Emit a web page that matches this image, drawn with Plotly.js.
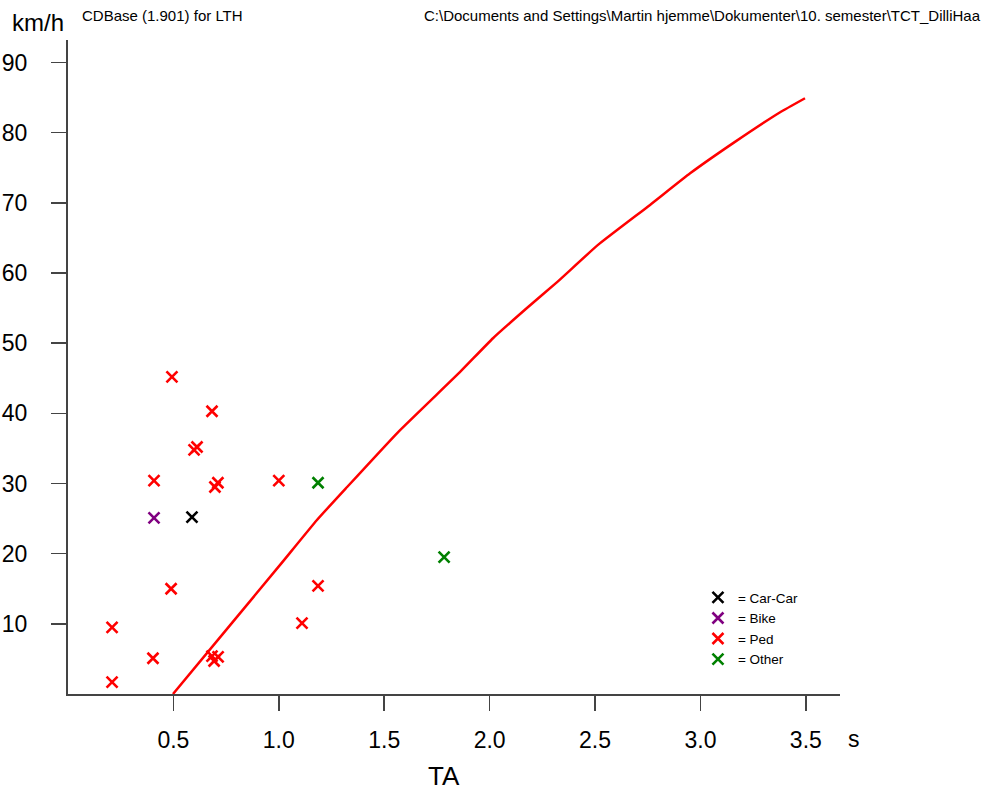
<!DOCTYPE html>
<html>
<head>
<meta charset="utf-8">
<script src="https://cdn.plot.ly/plotly-3.0.1.min.js"></script>
<style>html,body{margin:0;padding:0;background:#fff;}#chart{width:984px;height:796px;}</style>
</head>
<body>
<div id="chart"></div>
<script>
// Threshold curve (TA in s, speed in km/h)
var curveTA    = [0.498, 0.780, 1.006, 1.181, 1.324, 1.565, 1.860, 2.016, 2.177, 2.320, 2.514, 2.761, 2.951, 3.155, 3.378, 3.496];
var curveSpeed = [0.0, 10.2, 18.4, 24.8, 29.5, 37.3, 45.9, 50.7, 55.0, 58.7, 64.0, 69.7, 74.2, 78.5, 82.9, 84.9];

// Conflicts
var carTA = [0.588];
var carSpeed = [25.2];
var bikeTA = [0.408];
var bikeSpeed = [25.1];
var pedTA    = [0.209, 0.209, 0.403, 0.408, 0.489, 0.493, 0.683, 0.598, 0.612, 0.697, 0.711, 1.000, 1.110, 1.186, 0.683, 0.712, 0.693];
var pedSpeed = [1.7, 9.5, 5.1, 30.4, 15.0, 45.2, 40.3, 34.8, 35.2, 29.5, 30.1, 30.4, 10.1, 15.4, 5.4, 5.3, 4.7];
var otherTA = [1.186, 1.784];
var otherSpeed = [30.1, 19.5];

var xTicks = [0.5, 1.0, 1.5, 2.0, 2.5, 3.0, 3.5];
var xTickText = ['0.5', '1.0', '1.5', '2.0', '2.5', '3.0', '3.5'];
var yTicks = [10, 20, 30, 40, 50, 60, 70, 80, 90];

var FONT = '"Liberation Sans", Arial, sans-serif';

function mk(name, x, y, color) {
  return {
    type: 'scatter', mode: 'markers', name: name, x: x, y: y,
    marker: {symbol: 'x-thin', size: 11, color: color, line: {color: color, width: 2.6}},
    cliponaxis: false
  };
}

var traces = [
  {type: 'scatter', mode: 'lines', x: curveTA, y: curveSpeed, showlegend: false,
   line: {color: '#ff0000', width: 2.5, shape: 'spline', smoothing: 0.4}},
  mk('= Car-Car', carTA, carSpeed, '#000000'),
  mk('= Bike', bikeTA, bikeSpeed, '#800080'),
  mk('= Ped', pedTA, pedSpeed, '#ff0000'),
  mk('= Other', otherTA, otherSpeed, '#008000')
];

var layout = {
  width: 984, height: 796,
  margin: {l: 68, r: 144, t: 40, b: 102, pad: 0},
  paper_bgcolor: '#ffffff', plot_bgcolor: '#ffffff',
  font: {family: FONT, color: '#000'},
  showlegend: true,
  legend: {x: 0.816, y: 0.171, xanchor: 'left', yanchor: 'top', bgcolor: 'rgba(0,0,0,0)',
           font: {family: FONT, size: 13.5, color: '#000'}, itemwidth: 30},
  xaxis: {range: [0, 3.662], showgrid: false, zeroline: false, showline: true,
          linecolor: '#444', linewidth: 2, ticks: 'outside', ticklen: 15, tickwidth: 1.5, tickcolor: '#444',
          tickvals: xTicks, ticktext: xTickText, ticklabelstandoff: 9,
          tickfont: {family: FONT, size: 23, color: '#000'}},
  yaxis: {range: [0, 93.2], showgrid: false, zeroline: false, showline: true,
          linecolor: '#444', linewidth: 2, ticks: 'outside', ticklen: 15, tickwidth: 1.5, tickcolor: '#444',
          tickvals: yTicks, ticklabelstandoff: 19,
          tickfont: {family: FONT, size: 23, color: '#000'}},
  annotations: [
    {text: 'km/h', xref: 'paper', yref: 'paper', x: -0.0745, y: 1.0275, xanchor: 'left', yanchor: 'middle',
     showarrow: false, font: {family: FONT, size: 24, color: '#000'}},
    {text: 'CDBase (1.901) for LTH', xref: 'paper', yref: 'paper', x: 0.016, y: 1.038, xanchor: 'left', yanchor: 'middle',
     showarrow: false, font: {family: FONT, size: 15, color: '#000'}},
    {text: 'C:\\Documents and Settings\\Martin hjemme\\Dokumenter\\10. semester\\TCT_DilliHaa', xref: 'paper', yref: 'paper',
     x: 0.459, y: 1.038, xanchor: 'left', yanchor: 'middle',
     showarrow: false, font: {family: FONT, size: 15, color: '#000'}},
    {text: 's', xref: 'paper', yref: 'paper', x: 1.0078, y: -0.0688, xanchor: 'left', yanchor: 'middle',
     showarrow: false, font: {family: FONT, size: 23, color: '#000'}},
    {text: 'TA', xref: 'paper', yref: 'paper', x: 0.487, y: -0.126, xanchor: 'center', yanchor: 'middle',
     showarrow: false, font: {family: FONT, size: 26, color: '#000'}}
  ]
};

Plotly.newPlot('chart', traces, layout, {staticPlot: true, displayModeBar: false});
</script>
</body>
</html>
